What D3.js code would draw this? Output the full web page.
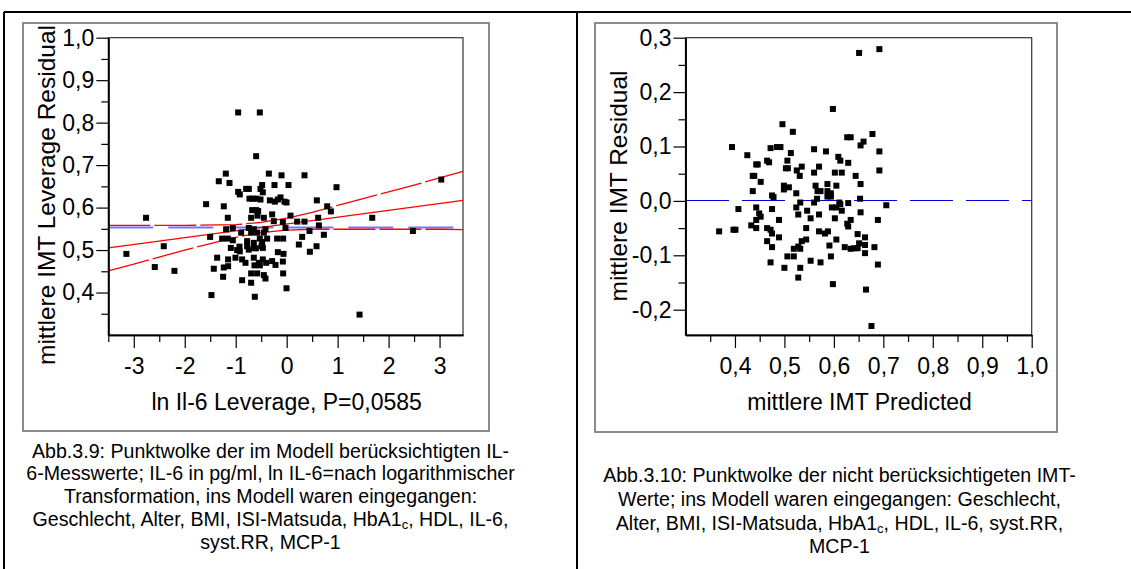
<!DOCTYPE html>
<html>
<head>
<meta charset="utf-8">
<script src="https://cdn.jsdelivr.net/npm/d3@7"></script>
<style>
  body { margin: 0; background: #fff; }
  svg { display: block; font-family: "Liberation Sans", Arial, sans-serif; }
  .axis text { font-size: 23px; fill: #000; font-family: "Liberation Sans", Arial, sans-serif; }
  .axis line { stroke: #000; stroke-width: 1.2; }
  .axis path { stroke: #000; stroke-width: 1.6; }
</style>
</head>
<body>
<div class="chart"></div>
<script>
// Abb.3.9 - leverage plot, ln IL-6 vs. mittlere IMT
const leveragePoints = [
  [-0.952,0.824],[-0.527,0.824],[-0.599,0.721],[-1.194,0.680],[-0.350,0.680],[-0.101,0.676],
  [0.350,0.676],[-1.332,0.662],[-1.122,0.658],[-0.239,0.653],[0.036,0.653],[-0.481,0.653],
  [0.978,0.648],[-0.952,0.637],[-0.920,0.631],[-0.795,0.644],[-0.743,0.644],[-0.514,0.644],
  [-0.468,0.636],[-0.730,0.621],[-0.664,0.621],[-0.592,0.621],[-0.514,0.619],[-0.330,0.617],
  [-0.232,0.614],[-0.173,0.619],[-0.121,0.624],[-0.043,0.614],[-0.003,0.612],[0.592,0.617],
  [-1.581,0.608],[-1.234,0.603],[-0.677,0.594],[-0.599,0.594],[-0.560,0.592],[0.795,0.603],
  [0.867,0.591],[-0.285,0.584],[-0.697,0.576],[-0.573,0.581],[-0.448,0.576],[-1.155,0.576],
  [-2.759,0.576],[0.075,0.581],[-0.252,0.568],[-0.075,0.566],[0.206,0.567],[0.350,0.567],
  [0.618,0.576],[0.632,0.558],[1.679,0.576],[-0.023,0.552],[-1.188,0.549],[-1.057,0.552],
  [-0.743,0.552],[-0.645,0.549],[-0.893,0.541],[-0.697,0.541],[-0.579,0.541],[-0.416,0.549],
  [-0.448,0.541],[2.477,0.545],[3.033,0.666],[0.448,0.545],[0.730,0.536],[0.304,0.531],
  [-1.502,0.531],[-1.266,0.527],[-1.155,0.527],[-1.057,0.523],[-0.187,0.527],[-0.069,0.527],
  [-0.383,0.527],[-0.776,0.521],[-0.645,0.517],[-0.527,0.527],[-0.481,0.519],[0.239,0.513],
  [-0.776,0.509],[-0.926,0.508],[-0.972,0.500],[-0.494,0.509],[-0.645,0.505],[-1.096,0.505],
  [-0.920,0.497],[-0.743,0.501],[-0.605,0.504],[-0.468,0.505],[-2.412,0.509],[0.586,0.509],
  [-3.145,0.491],[-0.173,0.495],[-0.062,0.491],[0.455,0.496],[-1.364,0.482],[-1.149,0.478],
  [-1.005,0.482],[-0.874,0.478],[-0.808,0.470],[-0.645,0.482],[-0.546,0.470],[-0.468,0.478],
  [-0.403,0.470],[-0.285,0.474],[-0.219,0.465],[-0.075,0.473],[-2.588,0.460],[-2.202,0.451],
  [-1.430,0.456],[-1.234,0.459],[-1.149,0.462],[-0.632,0.464],[-0.527,0.464],[-1.247,0.437],
  [-0.697,0.445],[-0.579,0.445],[-0.448,0.441],[-0.069,0.445],[-0.874,0.429],[-0.697,0.423],
  [-0.416,0.433],[-0.003,0.410],[-1.476,0.394],[-0.625,0.390],[1.430,0.348]
];
const fitLine = [[-3.5, 0.505], [3.46, 0.617]];
const curveX = [-3.5, -3, -2, -1, -0.5, 0, 0.5, 1, 1.5, 2, 2.5, 3, 3.46];
const upperCurve = [0.558, 0.558, 0.558, 0.560, 0.565, 0.575, 0.589, 0.605, 0.621, 0.637, 0.653, 0.670, 0.685];
const lowerCurve = [0.451, 0.467, 0.500, 0.530, 0.541, 0.547, 0.549, 0.549, 0.549, 0.549, 0.549, 0.549, 0.548];
const leverageMean = 0.553;

// Abb.3.10 - residual vs. predicted
const residualPoints = [
  [0.651,0.272],[0.692,0.279],[0.598,0.169],[0.496,0.141],[0.517,0.127],[0.678,0.123],
  [0.627,0.117],[0.634,0.117],[0.394,0.099],[0.472,0.097],[0.485,0.099],[0.492,0.099],
  [0.560,0.095],[0.584,0.091],[0.654,0.102],[0.660,0.109],[0.692,0.091],[0.425,0.084],
  [0.513,0.088],[0.465,0.074],[0.469,0.071],[0.506,0.074],[0.609,0.081],[0.613,0.074],
  [0.629,0.070],[0.443,0.067],[0.446,0.067],[0.535,0.063],[0.570,0.063],[0.503,0.060],
  [0.507,0.060],[0.525,0.056],[0.560,0.052],[0.602,0.052],[0.616,0.052],[0.692,0.056],
  [0.531,0.046],[0.436,0.046],[0.439,0.046],[0.644,0.046],[0.452,0.035],[0.587,0.031],
  [0.654,0.031],[0.499,0.028],[0.509,0.025],[0.563,0.028],[0.605,0.028],[0.567,0.018],
  [0.573,0.018],[0.436,0.018],[0.499,0.021],[0.587,0.018],[0.594,0.014],[0.587,0.008],
  [0.594,0.008],[0.524,0.014],[0.475,0.010],[0.478,0.007],[0.566,0.004],[0.653,0.004],
  [0.532,-0.003],[0.560,-0.003],[0.611,-0.003],[0.613,-0.006],[0.629,-0.004],[0.706,-0.008],
  [0.407,-0.015],[0.443,-0.012],[0.475,-0.015],[0.524,-0.012],[0.596,-0.012],[0.605,-0.012],
  [0.546,-0.018],[0.616,-0.018],[0.654,-0.021],[0.449,-0.023],[0.452,-0.029],[0.528,-0.025],
  [0.570,-0.025],[0.553,-0.032],[0.602,-0.032],[0.443,-0.035],[0.489,-0.035],[0.634,-0.035],
  [0.689,-0.035],[0.627,-0.042],[0.629,-0.047],[0.433,-0.045],[0.443,-0.050],[0.368,-0.056],
  [0.397,-0.053],[0.401,-0.053],[0.465,-0.050],[0.472,-0.053],[0.475,-0.060],[0.544,-0.050],
  [0.570,-0.056],[0.582,-0.060],[0.588,-0.056],[0.648,-0.061],[0.489,-0.067],[0.663,-0.067],
  [0.465,-0.074],[0.535,-0.074],[0.544,-0.071],[0.605,-0.071],[0.651,-0.078],[0.648,-0.087],
  [0.641,-0.087],[0.663,-0.081],[0.475,-0.085],[0.519,-0.088],[0.532,-0.088],[0.528,-0.084],
  [0.591,-0.082],[0.622,-0.085],[0.634,-0.088],[0.682,-0.085],[0.663,-0.096],[0.506,-0.102],
  [0.519,-0.102],[0.594,-0.102],[0.472,-0.113],[0.553,-0.110],[0.573,-0.113],[0.689,-0.117],
  [0.500,-0.123],[0.532,-0.123],[0.528,-0.141],[0.598,-0.153],[0.665,-0.163],[0.676,-0.230]
];
const residualZero = 0;

// tick values
const levXTicks = [-3, -2, -1, 0, 1, 2, 3];
const levXMinor = [-3.5, -2.5, -1.5, -0.5, 0.5, 1.5, 2.5];
const levYTicks = [0.4, 0.5, 0.6, 0.7, 0.8, 0.9, 1.0];
const levYMinor = [0.35, 0.45, 0.55, 0.65, 0.75, 0.85, 0.95];
const resXTicks = [0.4, 0.5, 0.6, 0.7, 0.8, 0.9, 1.0];
const resXMinor = [0.35, 0.45, 0.55, 0.65, 0.75, 0.85, 0.95];
const resYTicks = [-0.2, -0.1, 0.0, 0.1, 0.2, 0.3];
const resYMinor = [-0.15, -0.05, 0.05, 0.15, 0.25];

const leftCaption = [
  "Abb.3.9: Punktwolke der im Modell berücksichtigten IL-",
  "6-Messwerte; IL-6 in pg/ml, ln IL-6=nach logarithmischer",
  "Transformation, ins Modell waren eingegangen:",
  "Geschlecht, Alter, BMI, ISI-Matsuda, HbA1c, HDL, IL-6,",
  "syst.RR, MCP-1"
];
const rightCaption = [
  "Abb.3.10: Punktwolke der nicht berücksichtigeten IMT-",
  "Werte; ins Modell waren eingegangen: Geschlecht,",
  "Alter, BMI, ISI-Matsuda, HbA1c, HDL, IL-6, syst.RR,",
  "MCP-1"
];

const locale = d3.formatLocale({decimal: ",", thousands: ".", grouping: [3], currency: ["", ""], minus: "-"});
const fmt1 = locale.format(".1f");
const fmt0 = locale.format("d");

const svg = d3.select(".chart").append("svg")
    .attr("width", 1131)
    .attr("height", 569);

// table frame
svg.append("path")
    .attr("d", "M4,12H1131M4,12V569M577,12V569")
    .attr("fill", "none")
    .attr("stroke", "#000")
    .attr("stroke-width", 2);

function drawPanel(cfg) {
  const x = d3.scaleLinear().domain(cfg.xDomain).range([cfg.left, cfg.right]);
  const y = d3.scaleLinear().domain(cfg.yDomain).range([cfg.bottom, cfg.top]);
  const g = svg.append("g");

  // gray box round the graph
  g.append("rect")
      .attr("x", cfg.box[0]).attr("y", cfg.box[1])
      .attr("width", cfg.box[2] - cfg.box[0]).attr("height", cfg.box[3] - cfg.box[1])
      .attr("fill", "none").attr("stroke", "#808080").attr("stroke-width", 1.8);

  // plot frame
  g.append("rect")
      .attr("x", cfg.left).attr("y", cfg.top)
      .attr("width", cfg.right - cfg.left).attr("height", cfg.bottom - cfg.top)
      .attr("fill", "none").attr("stroke", "#333").attr("stroke-width", 1.2);

  const line = d3.line().x(d => x(d[0])).y(d => y(d[1]));
  cfg.lines.forEach(function(l) {
    g.append("path")
        .datum(l.data)
        .attr("d", line)
        .attr("fill", "none")
        .attr("stroke", l.color)
        .attr("stroke-width", l.width)
        .attr("stroke-dasharray", l.dash || null)
        .attr("shape-rendering", l.crisp ? "crispEdges" : null);
  });

  g.selectAll(".dot")
      .data(cfg.points)
    .enter().append("rect")
      .attr("class", "dot")
      .attr("x", d => x(d[0]) - 3)
      .attr("y", d => y(d[1]) - 3)
      .attr("width", 6)
      .attr("height", 6)
      .attr("fill", "#000");

  // axes: major with labels, minor without
  g.append("g").attr("class", "axis")
      .attr("transform", "translate(0," + cfg.bottom + ")")
      .call(d3.axisBottom(x).tickValues(cfg.xTicks).tickFormat(cfg.xFormat)
            .tickSize(13).tickSizeOuter(0).tickPadding(10));
  g.append("g").attr("class", "axis")
      .attr("transform", "translate(0," + cfg.bottom + ")")
      .call(d3.axisBottom(x).tickValues(cfg.xMinor).tickFormat("").tickSize(7).tickSizeOuter(0));
  g.append("g").attr("class", "axis")
      .attr("transform", "translate(" + cfg.left + ",0)")
      .call(d3.axisLeft(y).tickValues(cfg.yTicks).tickFormat(fmt1)
            .tickSize(12).tickSizeOuter(0).tickPadding(2));
  g.append("g").attr("class", "axis")
      .attr("transform", "translate(" + cfg.left + ",0)")
      .call(d3.axisLeft(y).tickValues(cfg.yMinor).tickFormat("").tickSize(7).tickSizeOuter(0));

  // axis titles
  g.append("text")
      .attr("x", (cfg.left + cfg.right) / 2 + 1)
      .attr("y", cfg.xTitleY)
      .attr("text-anchor", "middle")
      .style("font-size", "23px")
      .text(cfg.xTitle);
  g.append("text")
      .attr("transform", "translate(" + cfg.yTitleX + "," + cfg.yTitleMid + ") rotate(-90)")
      .attr("text-anchor", "middle")
      .style("font-size", "24.5px")
      .text(cfg.yTitle);

  // caption
  const cap = g.append("text")
      .attr("text-anchor", "middle")
      .style("font-size", "19.6px");
  cfg.caption.forEach(function(s, i) {
    const t = cap.append("tspan")
        .attr("x", cfg.capX)
        .attr("y", cfg.capY + i * cfg.capStep);
    const k = s.indexOf("HbA1c");
    if (k < 0) { t.text(s); return; }
    t.append("tspan").text(s.slice(0, k) + "HbA1");
    t.append("tspan").attr("dy", 3).style("font-size", "13px").text("c");
    t.append("tspan").attr("dy", -3).text(s.slice(k + 5));
  });
}

drawPanel({
  left: 108.3, right: 463, top: 37.7, bottom: 335,
  box: [23, 23, 489, 431],
  xDomain: [-3.5, 3.46], yDomain: [0.3, 1.0],
  xTicks: levXTicks, xMinor: levXMinor, yTicks: levYTicks, yMinor: levYMinor,
  xFormat: fmt0,
  points: leveragePoints,
  lines: [
    {data: [[-3.5, leverageMean], [3.46, leverageMean]], color: "#7575ff", width: 2, dash: "45,15"},
    {data: fitLine, color: "#ff0000", width: 1.3},
    {data: curveX.map((v, i) => [v, upperCurve[i]]), color: "#ff0000", width: 1.3, dash: "42,4"},
    {data: curveX.map((v, i) => [v, lowerCurve[i]]), color: "#ff0000", width: 1.3, dash: "42,4"}
  ],
  xTitle: "ln Il-6 Leverage, P=0,0585", xTitleY: 409.5,
  yTitle: "mittlere IMT Leverage Residual", yTitleX: 55, yTitleMid: 195,
  caption: leftCaption, capX: 270.5, capY: 457.5, capStep: 22.9
});

drawPanel({
  left: 685.5, right: 1031.7, top: 37.7, bottom: 335,
  box: [595, 23, 1057, 432],
  xDomain: [0.3, 1.0], yDomain: [-0.2465, 0.3],
  xTicks: resXTicks, xMinor: resXMinor, yTicks: resYTicks, yMinor: resYMinor,
  xFormat: fmt1,
  points: residualPoints,
  lines: [
    {data: [[0.3, residualZero], [1.0, residualZero]], color: "#0000d8", width: 1, dash: "43,13", crisp: true}
  ],
  xTitle: "mittlere IMT Predicted", xTitleY: 410,
  yTitle: "mittlere IMT Residual", yTitleX: 626.5, yTitleMid: 186,
  caption: rightCaption, capX: 839.5, capY: 482.3, capStep: 23.6
});
</script>
</body>
</html>
